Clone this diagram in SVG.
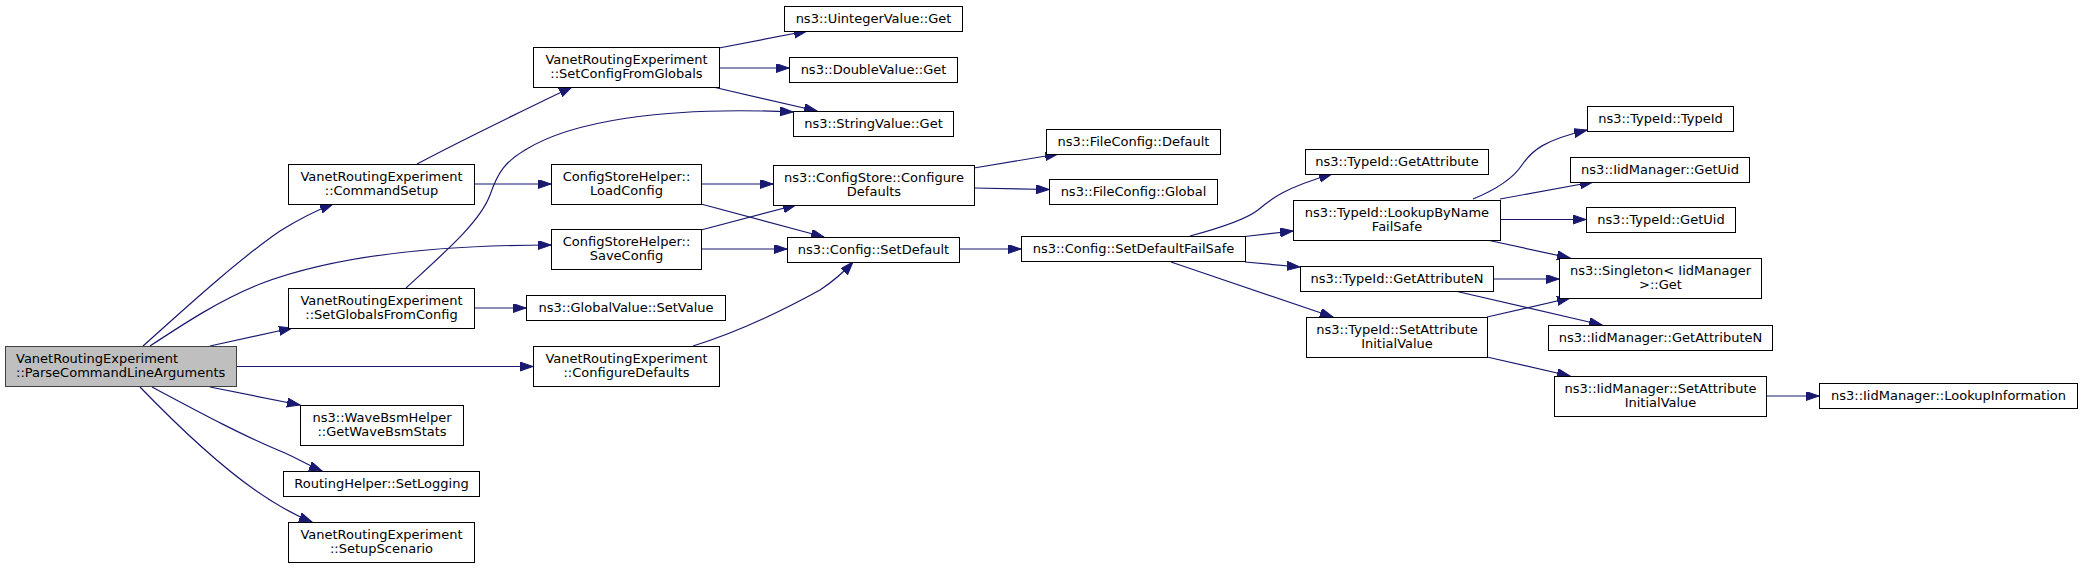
<svg xmlns="http://www.w3.org/2000/svg" width="2083" height="569" viewBox="0 0 2083 569">
<defs>
<style>
rect.n{fill:#ffffff;stroke:#000000;stroke-width:1}
rect.root{fill:#bfbfbf;stroke:#404040;stroke-width:1}
text{font-family:"DejaVu Sans","Liberation Sans",sans-serif;font-size:13px;fill:#000000}
text.c{text-anchor:middle}
#edges path{fill:none;stroke:#191970;stroke-width:1.2;marker-end:url(#a)}
</style>
<marker id="a" markerWidth="14" markerHeight="10" refX="13" refY="4.5" orient="auto" markerUnits="userSpaceOnUse">
<path d="M0,0 L13,4.5 L0,9 z" fill="#191970" stroke="#191970" stroke-width="1"/>
</marker>
</defs>
<rect width="2083" height="569" fill="#ffffff"/>
<g id="edges">
<path d="M143,346 C180,313 235,262 280,231 C296,221 315,211 333,204"/>
<path d="M150,346 C185,323 220,300 260,284 C330,257 430,245 551,245"/>
<path d="M210,346 L292,328"/>
<path d="M236,366.5 L533,366.5"/>
<path d="M210,387 L300,405"/>
<path d="M152,387 C195,410 245,437 285,453 C298,459 310,466 322,471"/>
<path d="M140,387 C170,418 215,462 255,490 C275,504 292,514 312,522"/>
<path d="M417,164 C460,141 520,112 572,87"/>
<path d="M474,184 L551,184"/>
<path d="M406,288 C445,252 480,222 490,195 C498,172 505,162 525,150 C570,122 660,106 793,112"/>
<path d="M474,308 L526,308"/>
<path d="M719,48 L807,31"/>
<path d="M719,68 L789,68"/>
<path d="M713,87 L817,111"/>
<path d="M701,184 L773,184"/>
<path d="M701,204 L824,237"/>
<path d="M701,230 L796,205"/>
<path d="M701,249 L787,249"/>
<path d="M693,346 C735,333 780,312 820,290 C832,282 843,273 853,262"/>
<path d="M974,168 L1058,154"/>
<path d="M974,188 L1049,189.5"/>
<path d="M959,249 L1021,249"/>
<path d="M1190,236 C1220,228 1245,220 1258,210 C1272,198 1285,188 1332,174"/>
<path d="M1245,236.5 L1293,231"/>
<path d="M1245,262 L1300,267"/>
<path d="M1171,262 L1333,317"/>
<path d="M1473,199 C1495,190 1512,180 1522,165 C1532,150 1545,140 1587,130"/>
<path d="M1500,199 L1593,182"/>
<path d="M1500,219.5 L1586,219.5"/>
<path d="M1487,240 L1570,258"/>
<path d="M1493,279 L1559,279"/>
<path d="M1455,291 L1602,325"/>
<path d="M1487,317 L1570,298"/>
<path d="M1487,357 L1570,376"/>
<path d="M1766,396 L1819,396"/>
</g>
<g id="n_parse"><rect class="root" x="5.5" y="346.5" width="231" height="40"/><text x="16" y="362.5">VanetRoutingExperiment</text><text x="16" y="376.5">::ParseCommandLineArguments</text></g>
<g id="n_commandsetup"><rect class="n" x="288.5" y="164.5" width="186" height="40"/><text class="c" x="381.5" y="180.5">VanetRoutingExperiment</text><text class="c" x="381.5" y="194.5">::CommandSetup</text></g>
<g id="n_setglobals"><rect class="n" x="288.5" y="288.5" width="186" height="40"/><text class="c" x="381.5" y="304.5">VanetRoutingExperiment</text><text class="c" x="381.5" y="318.5">::SetGlobalsFromConfig</text></g>
<g id="n_wavebsm"><rect class="n" x="300.5" y="405.5" width="163" height="40"/><text class="c" x="382" y="421.5">ns3::WaveBsmHelper</text><text class="c" x="382" y="435.5">::GetWaveBsmStats</text></g>
<g id="n_setlogging"><rect class="n" x="283.5" y="471.5" width="196" height="25"/><text class="c" x="381.5" y="488">RoutingHelper::SetLogging</text></g>
<g id="n_setupscenario"><rect class="n" x="288.5" y="522.5" width="186" height="40"/><text class="c" x="381.5" y="538.5">VanetRoutingExperiment</text><text class="c" x="381.5" y="552.5">::SetupScenario</text></g>
<g id="n_setconfig"><rect class="n" x="533.5" y="47.5" width="186" height="40"/><text class="c" x="626.5" y="63.5">VanetRoutingExperiment</text><text class="c" x="626.5" y="77.5">::SetConfigFromGlobals</text></g>
<g id="n_uint"><rect class="n" x="784.5" y="6.5" width="178" height="25"/><text class="c" x="873.5" y="23">ns3::UintegerValue::Get</text></g>
<g id="n_double"><rect class="n" x="789.5" y="57.5" width="168" height="25"/><text class="c" x="873.5" y="74">ns3::DoubleValue::Get</text></g>
<g id="n_string"><rect class="n" x="793.5" y="111.5" width="160" height="25"/><text class="c" x="873.5" y="128">ns3::StringValue::Get</text></g>
<g id="n_loadconfig"><rect class="n" x="551.5" y="164.5" width="150" height="40"/><text class="c" x="626.5" y="180.5">ConfigStoreHelper::</text><text class="c" x="626.5" y="194.5">LoadConfig</text></g>
<g id="n_saveconfig"><rect class="n" x="551.5" y="229.5" width="150" height="40"/><text class="c" x="626.5" y="245.5">ConfigStoreHelper::</text><text class="c" x="626.5" y="259.5">SaveConfig</text></g>
<g id="n_setvalue"><rect class="n" x="526.5" y="295.5" width="199" height="25"/><text class="c" x="626" y="312">ns3::GlobalValue::SetValue</text></g>
<g id="n_configdefaults"><rect class="n" x="533.5" y="346.5" width="186" height="40"/><text class="c" x="626.5" y="362.5">VanetRoutingExperiment</text><text class="c" x="626.5" y="376.5">::ConfigureDefaults</text></g>
<g id="n_configstore"><rect class="n" x="773.5" y="165.5" width="201" height="40"/><text class="c" x="874" y="181.5">ns3::ConfigStore::Configure</text><text class="c" x="874" y="195.5">Defaults</text></g>
<g id="n_setdefault"><rect class="n" x="787.5" y="237.5" width="172" height="25"/><text class="c" x="873.5" y="254">ns3::Config::SetDefault</text></g>
<g id="n_fcdefault"><rect class="n" x="1046.5" y="129.5" width="174" height="25"/><text class="c" x="1133.5" y="146">ns3::FileConfig::Default</text></g>
<g id="n_fcglobal"><rect class="n" x="1049.5" y="179.5" width="168" height="25"/><text class="c" x="1133.5" y="196">ns3::FileConfig::Global</text></g>
<g id="n_failsafe"><rect class="n" x="1021.5" y="236.5" width="224" height="25"/><text class="c" x="1133.5" y="253">ns3::Config::SetDefaultFailSafe</text></g>
<g id="n_getattr"><rect class="n" x="1305.5" y="149.5" width="183" height="25"/><text class="c" x="1397" y="166">ns3::TypeId::GetAttribute</text></g>
<g id="n_lookupbyname"><rect class="n" x="1293.5" y="200.5" width="207" height="40"/><text class="c" x="1397" y="216.5">ns3::TypeId::LookupByName</text><text class="c" x="1397" y="230.5">FailSafe</text></g>
<g id="n_getattrn"><rect class="n" x="1300.5" y="266.5" width="193" height="25"/><text class="c" x="1397" y="283">ns3::TypeId::GetAttributeN</text></g>
<g id="n_setattrinit"><rect class="n" x="1306.5" y="317.5" width="181" height="40"/><text class="c" x="1397" y="333.5">ns3::TypeId::SetAttribute</text><text class="c" x="1397" y="347.5">InitialValue</text></g>
<g id="n_typeid"><rect class="n" x="1587.5" y="106.5" width="146" height="25"/><text class="c" x="1660.5" y="123">ns3::TypeId::TypeId</text></g>
<g id="n_iidgetuid"><rect class="n" x="1570.5" y="157.5" width="179" height="25"/><text class="c" x="1660" y="174">ns3::IidManager::GetUid</text></g>
<g id="n_typeidgetuid"><rect class="n" x="1586.5" y="207.5" width="149" height="25"/><text class="c" x="1661" y="224">ns3::TypeId::GetUid</text></g>
<g id="n_singleton"><rect class="n" x="1559.5" y="258.5" width="202" height="40"/><text class="c" x="1660.5" y="274.5">ns3::Singleton&lt; IidManager</text><text class="c" x="1660.5" y="288.5">&gt;::Get</text></g>
<g id="n_iidgetattrn"><rect class="n" x="1548.5" y="325.5" width="224" height="25"/><text class="c" x="1660.5" y="342">ns3::IidManager::GetAttributeN</text></g>
<g id="n_iidsetattr"><rect class="n" x="1554.5" y="376.5" width="212" height="40"/><text class="c" x="1660.5" y="392.5">ns3::IidManager::SetAttribute</text><text class="c" x="1660.5" y="406.5">InitialValue</text></g>
<g id="n_lookupinfo"><rect class="n" x="1819.5" y="383.5" width="258" height="25"/><text class="c" x="1948.5" y="400">ns3::IidManager::LookupInformation</text></g>
</svg>
